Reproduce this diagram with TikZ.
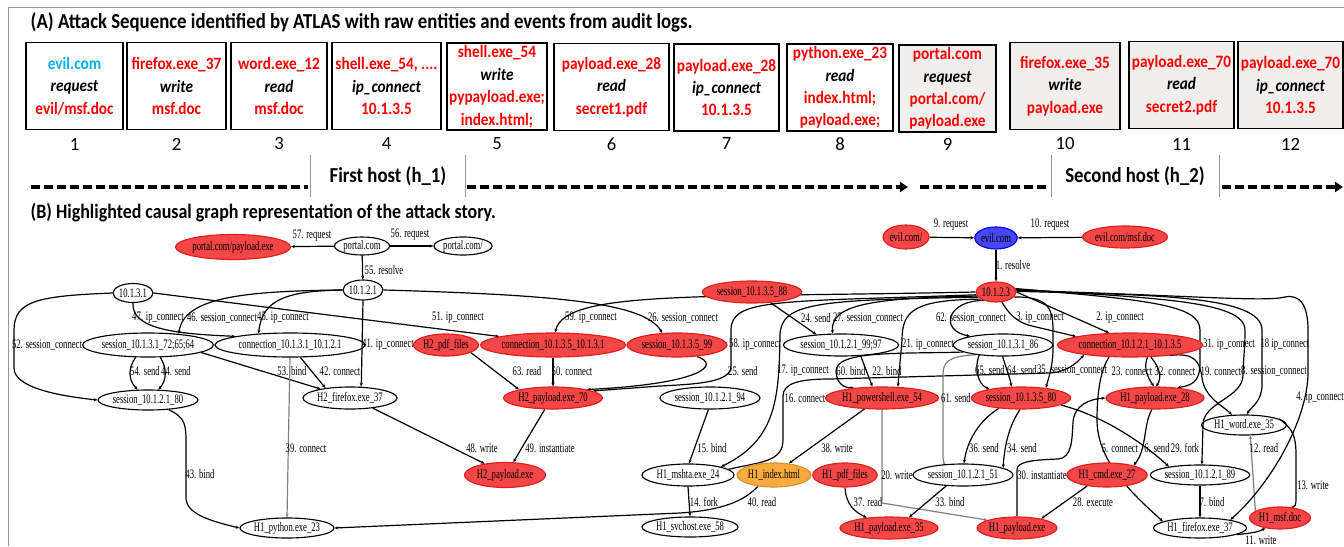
\documentclass[tikz,border=0pt]{standalone}
\usepackage{fontspec}
\setmainfont{Carlito}
\newfontfamily\panelfont[FakeStretch=0.88]{Carlito}
\newfontfamily\graphfont[FakeStretch=0.665]{Liberation Serif}
\usetikzlibrary{arrows.meta, shapes.geometric, calc, positioning}
\definecolor{hitred}{RGB}{243,70,70}
\definecolor{hitline}{RGB}{226,28,28}
\definecolor{rootblue}{RGB}{70,70,243}
\definecolor{hitorange}{RGB}{246,172,60}
\definecolor{evilcyan}{RGB}{0,176,240}
\definecolor{boxgray}{RGB}{241,239,238}
\definecolor{framegray}{RGB}{150,150,150}
\pgfdeclarelayer{background}
\pgfsetlayers{background,main}
\tikzset{
    ent/.style={ellipse, draw, line width=0.85pt, inner sep=0pt, font=\graphfont\fontsize{9.75}{11}\selectfont},
    hit/.style={fill=hitred, draw=hitline},
    root/.style={fill=rootblue, draw=blue},
    staged/.style={fill=hitorange, draw=hitorange!85!black},
    elab/.style={inner sep=0pt, font=\graphfont\fontsize{9.75}{11}\selectfont},
    causal/.style={line width=0.9pt, -{Stealth[length=2.8pt,width=2.3pt]}},
    faint/.style={draw=black!50},
    evbox/.style={draw, line width=1.4pt, minimum height=87*0.75pt, inner sep=0pt, align=center, text=red, font=\panelfont\bfseries\fontsize{13}{16.8}\selectfont},
    evnum/.style={font=\fontsize{14}{16}\selectfont},
    hostlab/.style={font=\panelfont\bfseries\fontsize{16}{18}\selectfont},
    hostline/.style={line width=2.6pt, dash pattern=on 6.75pt off 3pt},
    sep/.style={draw=framegray, line width=0.6pt}
}
% graph node: name, position, width, height, style, text
\newcommand{\gnode}[6]{
    \node[ent, #5, minimum width=#3*0.75pt, minimum height=#4*0.75pt] (#1) at (#2) {#6};
}
% edge label: name, position, text
\newcommand{\elabel}[3]{
    \node[elab] (#1) at (#2) {#3};
}
% event box: name, position, width, fill, text
\newcommand{\evbox}[5]{
    \node[evbox, fill=#4, minimum width=#3*0.75pt] (#1) at (#2) {#5};
}
\newcommand{\act}[1]{{\color{black}\itshape #1}}

\begin{document}
\begin{tikzpicture}[x=0.75pt, y=-0.75pt]
\useasboundingbox (0,0) rectangle (1344,546);
\draw[framegray, line width=0.75pt] (8,546) -- (8,7) -- (1344,7);

% (A) attack sequence
\node[anchor=west, font=\panelfont\bfseries\fontsize{16}{18}\selectfont] (titleA) at (26,22)
    {(A) Attack Sequence identified by ATLAS with raw entities and events from audit logs.};
\evbox{box1}{74.5,86}{97}{white}{{\color{evilcyan}evil.com}\\\act{request}\\evil/msf.doc}
\evbox{box2}{176.5,86}{99}{white}{firefox.exe\_37\\\act{write}\\msf.doc}
\evbox{box3}{279,86}{96}{white}{word.exe\_12\\\act{read}\\msf.doc}
\evbox{box4}{386.5,86}{109}{white}{shell.exe\_54, ....\\\act{ip\_connect}\\10.1.3.5}
\evbox{box5}{497,86.5}{100}{white}{shell.exe\_54\\\act{write}\\pypayload.exe;\\index.html;}
\evbox{box6}{611.5,87}{115}{white}{payload.exe\_28\\\act{read}\\secret1.pdf}
\evbox{box7}{726.5,87.5}{105}{white}{payload.exe\_28\\\act{ip\_connect}\\10.1.3.5}
\evbox{box8}{840,87.5}{106}{white}{python.exe\_23\\\act{read}\\index.html;\\payload.exe;}
\evbox{box9}{947.5,88.5}{97}{boxgray}{portal.com\\\act{request}\\portal.com/\\payload.exe}
\evbox{box10}{1065,86}{110}{boxgray}{firefox.exe\_35\\\act{write}\\payload.exe}
\evbox{box11}{1181.5,85}{105}{boxgray}{payload.exe\_70\\\act{read}\\secret2.pdf}
\evbox{box12}{1290.5,85}{105}{boxgray}{payload.exe\_70\\\act{ip\_connect}\\10.1.3.5}
\coordinate (numrow) at (0,144);
\foreach \i in {1,...,12}
    \node[evnum] (num\i) at (box\i |- numrow) {\i};

\node[hostlab] (hostA) at (388,176) {First host (h\_1)};
\node[hostlab] (hostB) at (1135,176) {Second host (h\_2)};
\draw[sep] (310,155) -- (310,197) (465,155) -- (465,197);
\draw[sep] (1051,155) -- (1051,197) (1219,155) -- (1219,197);
\draw[hostline] (31,187) -- (308,187);
\draw[hostline, -{Triangle[length=6pt,width=7.5pt]}] (467,187) -- (908,187);
\draw[hostline] (920,187) -- (1048,187);
\draw[hostline, -{Triangle[length=6pt,width=7.5pt]}] (1222,187) -- (1343,187);

% (B) causal graph
\node[anchor=west, font=\panelfont\bfseries\fontsize{15.3}{18}\selectfont] (titleB) at (26,213)
    {(B) Highlighted causal graph representation of the attack story.};
\gnode{portalpay}{233,247}{115}{25}{hit}{portal.com/payload.exe}
\gnode{portal}{362,246}{55}{18}{}{portal.com}
\gnode{portalsl}{463,246}{58}{18}{}{portal.com/}
\gnode{evilsl}{906,237}{46}{24}{hit}{evil.com/}
\gnode{evil}{996,238}{42}{22}{root}{evil.com}
\gnode{evilmsf}{1125,237}{85}{22}{hit}{evil.com/msf.doc}
\gnode{ipa}{133,293}{40}{19}{}{10.1.3.1}
\gnode{ipb}{363,290}{40}{20}{}{10.1.2.1}
\gnode{ipc}{996,292}{40}{20}{hit}{10.1.2.3}
\gnode{s88}{752,292}{99}{22}{hit}{session\_10.1.3.5\_88}
\gnode{s7265}{148,345}{130}{24}{}{session\_10.1.3.1\_72;65;64}
\gnode{c3121}{290,345}{150}{24}{}{connection\_10.1.3.1\_10.1.2.1}
\gnode{pdftwo}{446,345}{65}{22}{hit}{H2\_pdf\_files}
\gnode{c3531}{553,345}{145}{24}{hit}{connection\_10.1.3.5\_10.1.3.1}
\gnode{s99}{677,345}{100}{24}{hit}{session\_10.1.3.5\_99}
\gnode{s9997}{841,345}{115}{22}{}{session\_10.1.2.1\_99;97}
\gnode{s86}{1003,345}{99}{22}{}{session\_10.1.3.1\_86}
\gnode{c2135}{1130,345}{145}{24}{hit}{connection\_10.1.2.1\_10.1.3.5}
\gnode{s80}{148,400}{100}{20}{}{session\_10.1.2.1\_80}
\gnode{fftwo}{350,398}{94}{22}{}{H2\_firefox.exe\_37}
\gnode{pay70}{553,398}{99}{22}{hit}{H2\_payload.exe\_70}
\gnode{s94}{710,398}{100}{22}{}{session\_10.1.2.1\_94}
\gnode{ps54}{882,398}{112}{22}{hit}{H1\_powershell.exe\_54}
\gnode{s3580}{1021,398}{97}{22}{hit}{session\_10.1.3.5\_80}
\gnode{pay28}{1155,398}{98}{22}{hit}{H1\_payload.exe\_28}
\gnode{word35}{1244,425}{85}{20}{}{H1\_word.exe\_35}
\gnode{paytwo}{505,475}{81}{25}{hit}{H2\_payload.exe}
\gnode{mshta}{688,475}{92}{22}{}{H1\_mshta.exe\_24}
\gnode{index}{774,475}{74}{24}{staged}{H1\_index.html}
\gnode{pdfone}{845,475}{64}{24}{hit}{H1\_pdf\_files}
\gnode{s51}{963,475}{100}{22}{}{session\_10.1.2.1\_51}
\gnode{cmd27}{1107,475}{80}{24}{hit}{H1\_cmd.exe\_27}
\gnode{s89}{1200,475}{99}{20}{}{session\_10.1.2.1\_89}
\gnode{py23}{287,528}{94}{20}{}{H1\_python.exe\_23}
\gnode{svc58}{690,527}{95}{20}{}{H1\_svchost.exe\_58}
\gnode{pay35}{889,528}{98}{22}{hit}{H1\_payload.exe\_35}
\gnode{payone}{1017,528}{80}{22}{hit}{H1\_payload.exe}
\gnode{ff37}{1200,528}{93}{20}{}{H1\_firefox.exe\_37}
\gnode{msf}{1280,518}{61}{22}{hit}{H1\_msf.doc}

\elabel{l57}{312,236}{57. request}
\elabel{l56}{410,235}{56. request}
\elabel{l55}{384,270}{55. resolve}
\elabel{l9}{951,225}{9. request}
\elabel{l10}{1050,225}{10. request}
\elabel{l1}{1013,265}{1. resolve}
\elabel{l52}{47,345}{52. session\_connect}
\elabel{l47}{158,318}{47. ip\_connect}
\elabel{l46}{222,318}{46. session\_connect}
\elabel{l45}{283,318}{45. ip\_connect}
\elabel{l51}{458,318}{51. ip\_connect}
\elabel{l59}{591,318}{59. ip\_connect}
\elabel{l26}{683,318}{26. session\_connect}
\elabel{l24}{816,318}{24. send}
\elabel{l27}{868,318}{27. session\_connect}
\elabel{l62}{971,318}{62. session\_connect}
\elabel{l3}{1040,318}{3. ip\_connect}
\elabel{l2}{1120,318}{2. ip\_connect}
\elabel{l41}{388,345}{41. ip\_connect}
\elabel{l58}{755,345}{58. ip\_connect}
\elabel{l21}{928,345}{21. ip\_connect}
\elabel{l31}{1229,345}{31. ip\_connect}
\elabel{l18}{1285,345}{18 ip\_connect}
\elabel{l54}{145,371}{54. send}
\elabel{l44}{176,371}{44. send}
\elabel{l53}{292,371}{53. bind}
\elabel{l42}{340,371}{42. connect}
\elabel{l63}{527,371}{63. read}
\elabel{l50}{572,371}{50. connect}
\elabel{l25}{743,371}{25. send}
\elabel{l17}{803,371}{17. ip\_connect}
\elabel{l60}{851,371}{60. bind}
\elabel{l22}{887,371}{22. bind}
\elabel{l65}{990,370}{65. send}
\elabel{l64}{1022,370}{64. send}
\elabel{l35}{1072,370}{35. session\_connect}
\elabel{l23}{1132,371}{23. connect}
\elabel{l32}{1175,371}{32. connect}
\elabel{l19}{1221,371}{19. connect}
\elabel{l8}{1274,371}{8. session\_connect}
\elabel{l16}{805,398}{16. connect}
\elabel{l61}{956,398}{61. send}
\elabel{l4}{1320,398}{4. ip\_connect}
\elabel{l39}{306,448}{39. connect}
\elabel{l48}{482,448}{48. write}
\elabel{l49}{550,448}{49. instantiate}
\elabel{l15}{712,448}{15. bind}
\elabel{l38}{837,448}{38. write}
\elabel{l36}{984,448}{36. send}
\elabel{l34}{1022,448}{34. send}
\elabel{l5}{1120,448}{5. connect}
\elabel{l6}{1157,448}{6. send}
\elabel{l29}{1185,448}{29. fork}
\elabel{l12}{1264,448}{12. read}
\elabel{l43}{200,474}{43. bind}
\elabel{l20}{897,475}{20. write}
\elabel{l30}{1042,475}{30. instantiate}
\elabel{l13}{1313,485}{13. write}
\elabel{l14}{704,502}{14. fork}
\elabel{l40}{762,502}{40. read}
\elabel{l37}{868,502}{37. read}
\elabel{l33}{950,502}{33. bind}
\elabel{l28}{1093,502}{28. execute}
\elabel{l7}{1212,502}{7. bind}
\elabel{l11}{1261,540}{11. write}

\begin{pgfonlayer}{background}
% top
\draw[causal] (portal) -- (portalpay);
\draw[causal] (portal) -- (portalsl);
\draw[causal] (portal) -- (ipb);
\draw[causal] (evilsl) -- (evil);
\draw[causal] (evilmsf) -- (evil);
\draw[causal] (evil) -- (ipc);
% second host
\draw[causal] (ipa.west) .. controls (40,296) and (14,300) .. (14,330) -- (14,368) .. controls (14,388) and (60,396) .. (s80.west);
\draw[causal] (ipa.south) .. controls (131,330) and (180,334) .. (c3121.171);
\draw[causal] (ipb.west) .. controls (240,291) and (184,298) .. (s7265.20);
\draw[causal] (ipb.west) .. controls (290,291) and (262,298) .. (c3121.160);
\draw[causal] (ipa.east) -- (c3531.171);
\draw[causal] (ipb.south) -- (fftwo.45);
\draw[causal] (c3121.310) -- (fftwo.158);
\draw[causal] (s7265.352) -- (fftwo.163);
\draw[causal, faint] (c3121.south) -- (py23.north);
\draw[causal] (s7265.225) .. controls (128,368) and (128,380) .. (s80.135);
\draw[causal] (s7265.315) .. controls (167,368) and (167,380) .. (s80.45);
\draw[causal] (s80.335) .. controls (186,418) and (186,425) .. (186,445) -- (186,498) .. controls (186,515) and (215,522) .. (py23.west);
\draw[causal] (fftwo.336) -- (paytwo.151);
\draw[causal] (pay70.234) -- (paytwo.57);
\draw[causal] (pdftwo.343) -- (pay70.166);
\draw[causal] (c3531.south) -- (pay70.north);
\draw[causal] (ipb.east) .. controls (560,295) and (645,303) .. (s99.141);
\draw[causal] (ipc.west) .. controls (700,298) and (565,290) .. (c3531.80);
\draw[causal] (ipc.188) .. controls (780,302) and (731,298) .. (731,330) -- (731,366) .. controls (731,382) and (700,384) .. (660,386) -- (pay70.10);
\draw[causal] (s99.330) .. controls (722,365) and (700,384) .. (pay70.14);
% first host
\draw[causal] (s88.330) -- (s9997.157);
\draw[causal] (ipc.192) .. controls (870,298) and (830,305) .. (s9997.126);
\draw[causal] (ipc.196) .. controls (820,300) and (781,302) .. (780,335) .. controls (779,400) and (776,440) .. (mshta.14);
\draw[causal] (mshta.8) .. controls (760,462) and (783,462) .. (783,440) -- (783,396) .. controls (783,383) and (800,379) .. (830,379) -- (1050,373) .. controls (1065,372) and (1075,365) .. (c2135.192);
\draw[causal] (s94.262) -- (mshta.85);
\draw[causal] (mshta.south) -- (svc58.north);
\draw[causal] (index.215) .. controls (745,500) and (725,510) .. (680,513) -- (py23.east);
\draw[causal] (ps54.212) -- (index.38);
\draw[causal] (s86.190) .. controls (900,354) and (834,350) .. (836,372) .. controls (837,382) and (842,388) .. (ps54.160);
\draw[causal] (s9997.331) -- (ps54.130);
\draw[causal] (ipc.205) .. controls (915,300) and (902,310) .. (902,340) -- (ps54.35);
\draw[causal] (ipc.215) .. controls (948,300) and (938,330) .. (s86.165);
\draw[causal] (ipc.300) .. controls (1008,312) and (1015,322) .. (1032,326) -- (c2135.171);
\draw[causal] (ipc.east) -- (c2135.150);
\draw[causal] (s86.203) .. controls (974,368) and (978,385) .. (s3580.164);
\draw[causal] (s86.268) .. controls (1006,368) and (1010,378) .. (s3580.130);
\draw[causal, faint] (s86.200) .. controls (948,356) and (943,362) .. (943,375) -- (943,455) .. controls (943,462) and (945,464) .. (s51.147);
\draw[causal] (s3580.205) .. controls (980,420) and (967,440) .. (s51.85);
\draw[causal] (s3580.265) .. controls (1006,430) and (1004,455) .. (s51.10);
\draw[causal] (ipc.345) .. controls (1045,297) and (1053,305) .. (1053,330) -- (1053,350) .. controls (1053,365) and (1048,380) .. (s3580.22);
\draw[causal] (c2135.325) .. controls (1143,368) and (1148,378) .. (pay28.95);
\draw[causal] (c2135.330) .. controls (1160,368) and (1162,378) .. (pay28.85);
\draw[causal] (c2135.210) .. controls (1100,370) and (1097,395) .. (1097,420) .. controls (1097,460) and (1130,492) .. (ff37.170);
\draw[causal] (s3580.350) .. controls (1100,415) and (1140,440) .. (s89.165);
\draw[causal] (pay28.255) .. controls (1143,425) and (1147,450) .. (cmd27.20);
\draw[causal] (cmd27.209) -- (payone.21);
\draw[causal] (payone.north) -- (1017,470) .. controls (1017,462) and (1030,460) .. (1058,459) .. controls (1072,458) and (1072,440) .. (1073,422) .. controls (1074,405) and (1090,399) .. (pay28.west);
\draw[causal, faint] (ps54.south) -- (882,503) -- (payone.165);
\draw[causal] (pdfone.south) .. controls (846,505) and (855,512) .. (pay35.155);
\draw[causal] (s51.213) -- (pay35.28);
\draw[causal, faint] (msf.164) -- (word35.301);
\draw[causal] (word35.10) .. controls (1292,428) and (1296,435) .. (1296,455) -- (1296,498) .. controls (1296,505) and (1295,507) .. (msf.45);
\draw[causal] (ff37.350) .. controls (1255,533) and (1260,531) .. (msf.215);
\draw[causal] (s89.south) -- (ff37.north);
\draw[causal] (ipc.5) .. controls (1200,296) and (1265,302) .. (1285,297) .. controls (1300,294) and (1308,305) .. (1308,330) -- (1308,372) .. controls (1308,420) and (1270,485) .. (ff37.15);
\draw[causal] (ipc.2) .. controls (1150,295) and (1262,295) .. (1262,330) -- (1262,385) .. controls (1262,402) and (1250,408) .. (word35.75);
\draw[causal] (ipc.8) .. controls (1150,298) and (1245,300) .. (1245,330) .. controls (1245,350) and (1243,362) .. (1243,375) .. controls (1243,398) and (1203,402) .. (1203,425) -- (s89.80);
\draw[causal] (c2135.345) .. controls (1195,352) and (1200,362) .. (1202,378) .. controls (1205,398) and (1222,405) .. (word35.140);
\draw[causal] (ipc.10) .. controls (1150,300) and (1200,305) .. (1200,330) -- (1200,362) .. controls (1200,378) and (1196,385) .. (pay28.25);
\end{pgfonlayer}
\end{tikzpicture}
\end{document}
